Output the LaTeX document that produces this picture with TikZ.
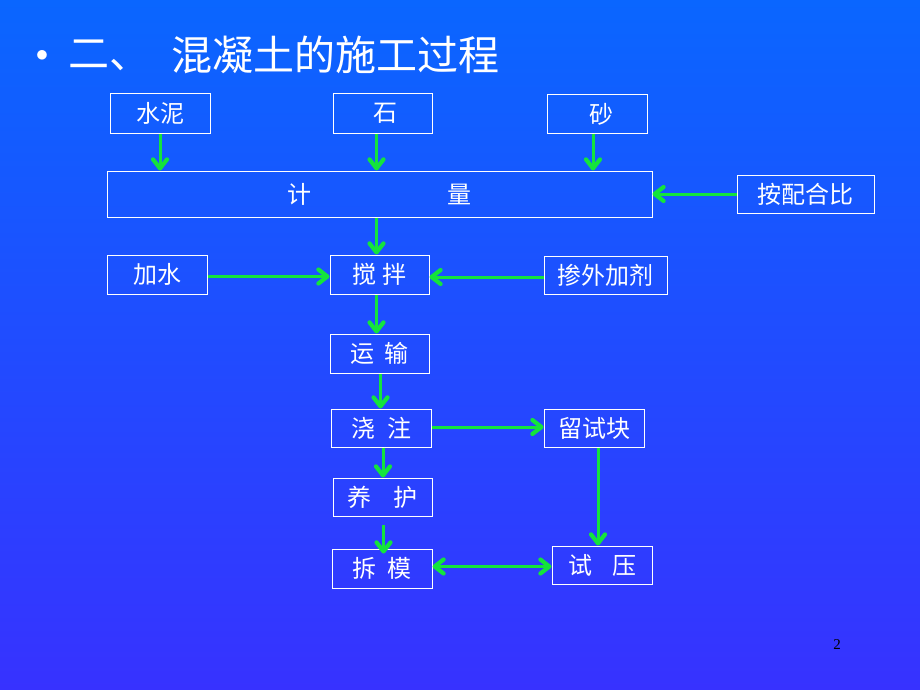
\documentclass[tikz,border=0pt]{standalone}
\usepackage{fontspec}
\setmainfont{Liberation Serif}
\newfontfamily\cjk{Noto Sans CJK SC}
\usetikzlibrary{arrows.meta}
\definecolor{bgtop}{RGB}{10,102,255}
\definecolor{bgbot}{RGB}{55,50,255}
\definecolor{arrgreen}{RGB}{20,228,60}
\tikzset{
  box/.style={draw=white, line width=1pt, inner sep=0pt, text=white,
    font=\cjk\fontsize{24}{24}\selectfont, minimum height=39pt},
  tipg/.tip={Straight Barb[length=9pt,width=14pt,line width=4.2pt,round]},
  arr/.style={draw=arrgreen, line width=3pt, -tipg},
  darr/.style={draw=arrgreen, line width=3pt, tipg-tipg}
}
\begin{document}
\begin{tikzpicture}[x=1pt,y=-1pt]
\shade[top color=bgtop, bottom color=bgbot] (0,0) rectangle (920,690);
\useasboundingbox (0,0) rectangle (920,690);
% title
\node[text=white, font=\fontsize{30}{30}\selectfont] (bul) at (42,56) {$\bullet$};
\node[text=white, anchor=west, inner sep=0pt, font=\cjk\fontsize{41}{41}\selectfont] (t1) at (68,55) {二、};
\node[text=white, anchor=west, inner sep=0pt, font=\cjk\fontsize{41}{41}\selectfont] (t2) at (171,55) {混凝土的施工过程};
% boxes
\node[box, minimum width=100pt] (sn) at (160,113.5) {水泥};
\node[box, minimum width=99pt] (shi) at (382.5,113.5) {\hspace{6pt}石};
\node[box, minimum width=100pt, minimum height=38pt] (sha) at (597,114) {\hspace{8pt}砂};
\node[box, minimum width=545pt, minimum height=46pt] (jl) at (379.5,194) {\raisebox{-3pt}{计\hspace{136pt}量}};
\node[box, minimum width=137pt, minimum height=38pt] (apb) at (805.5,194) {按配合比};
\node[box, minimum width=100pt] (js) at (157,274.5) {加水};
\node[box, minimum width=99pt] (jb) at (379.5,274.5) {搅\hspace{7pt}拌};
\node[box, minimum width=123pt, minimum height=38pt] (wj) at (605.5,275) {掺外加剂};
\node[box, minimum width=99pt] (ys) at (379.5,353.5) {运\hspace{10pt}输};
\node[box, minimum width=100pt, minimum height=38pt] (jz) at (381,428) {浇\hspace{12pt}注};
\node[box, minimum width=100pt, minimum height=38pt] (lsk) at (594,428) {留试块};
\node[box, minimum width=99pt, minimum height=38pt] (yh) at (382.5,497) {养\hspace{22pt}护};
\node[box, minimum width=100pt] (cm) at (382,568.5) {拆\hspace{11pt}模};
\node[box, minimum width=100pt, minimum height=38pt] (sy) at (602,565) {试\hspace{20pt}压};
% page number
\node[text=black, font=\fontsize{15}{15}\selectfont] (pn) at (837,645) {2};
% arrows
\draw[arr] (sn.south) -- (sn.south |- jl.north);
\draw[arr] ([xshift=-6pt]shi.south) -- ([xshift=-6pt]shi.south |- jl.north);
\draw[arr] ([xshift=-4pt]sha.south) -- ([xshift=-4pt]sha.south |- jl.north);
\draw[arr] (apb.west) -- (apb.west -| jl.east);
\draw[arr] ([xshift=-3pt]jl.south -| jb.north) -- ([xshift=-3pt]jb.north);
\draw[arr] ([yshift=-2pt]js.east) -- ([yshift=-2pt]js.east -| jb.west);
\draw[arr] ([yshift=-2pt]wj.west) -- ([yshift=-2pt]wj.west -| jb.east);
\draw[arr] ([xshift=-3pt]jb.south) -- ([xshift=-3pt]jb.south |- ys.north);
\draw[arr] ([xshift=1pt]ys.south) -- ([xshift=1pt]ys.south |- jz.north);
\draw[arr] ([yshift=1pt]jz.east) -- ([yshift=1pt]jz.east -| lsk.west);
\draw[arr] ([xshift=2pt]jz.south) -- ([xshift=2pt]jz.south |- yh.north);
\coordinate (yhs) at ([xshift=1pt,yshift=-8pt]yh.south);
\draw[arr] (yhs) -- ([yshift=-5pt]yhs |- cm.north);
\draw[arr] ([xshift=4pt]lsk.south) -- ([xshift=4pt]lsk.south |- sy.north);
\draw[darr] ([yshift=2pt]cm.east) -- ([yshift=2pt]cm.east -| sy.west);
\end{tikzpicture}
\end{document}
